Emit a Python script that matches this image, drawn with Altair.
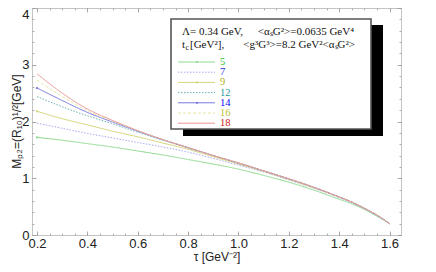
import altair as alt
import pandas as pd

# ---- data ----
tau = [0.2, 0.3, 0.4, 0.5, 0.6, 0.7, 0.8, 0.9, 1.0, 1.1, 1.2, 1.3, 1.4, 1.45, 1.5, 1.55, 1.6]
series_labels = ["5", "7", "9", "12", "14", "16", "18"]
m5 = [1.72, 1.67, 1.61, 1.55, 1.48, 1.41, 1.33, 1.25, 1.16, 1.05, 0.93, 0.79, 0.63, 0.55, 0.45, 0.33, 0.20]
m7 = [1.97, 1.88, 1.79, 1.71, 1.63, 1.55, 1.46, 1.35, 1.23, 1.11, 0.97, 0.82, 0.66, 0.57, 0.46, 0.34, 0.20]
m9 = [2.18, 2.05, 1.94, 1.83, 1.73, 1.62, 1.51, 1.38, 1.25, 1.12, 0.98, 0.83, 0.67, 0.58, 0.47, 0.35, 0.20]
m12 = [2.44, 2.26, 2.10, 1.96, 1.81, 1.67, 1.53, 1.40, 1.26, 1.13, 0.99, 0.84, 0.67, 0.58, 0.47, 0.35, 0.20]
m14 = [2.59, 2.37, 2.16, 1.99, 1.83, 1.68, 1.54, 1.40, 1.27, 1.13, 0.99, 0.84, 0.67, 0.58, 0.47, 0.35, 0.20]
m16 = [2.73, 2.44, 2.19, 2.01, 1.84, 1.68, 1.54, 1.40, 1.27, 1.13, 0.99, 0.84, 0.67, 0.58, 0.47, 0.35, 0.20]
m18 = [2.84, 2.50, 2.22, 2.02, 1.84, 1.68, 1.54, 1.40, 1.27, 1.13, 0.99, 0.84, 0.67, 0.58, 0.47, 0.35, 0.20]
all_series = [m5, m7, m9, m12, m14, m16, m18]
marked_series = ["5", "9", "14"]

x_major = [0.2, 0.4, 0.6, 0.8, 1.0, 1.2, 1.4, 1.6]
x_minor = [round(0.2 + 0.05 * i, 2) for i in range(-1, 29)]
y_major = [0, 1, 2, 3, 4]
y_minor = [round(0.2 * i, 1) for i in range(0, 21)]

# ---- styles ----
line_colors = ["#8edb8e", "#a9a9f2", "#d4d478", "#6db3b3", "#7878e0", "#e6e6a6", "#ea9696"]
label_colors = ["#2ec42e", "#2a2ad8", "#b0b020", "#1f9a9a", "#0a0aff", "#c0c030", "#cc2020"]
dashes = [[1, 0], [1.5, 1.5], [1, 0], [1.5, 1.5], [1, 0], [3, 2], [1, 0]]

rows = []
for lab, vals in zip(series_labels, all_series):
    for t, v in zip(tau, vals):
        rows.append({"tau": t, "m": v, "series": lab})
df = pd.DataFrame(rows)

legend_df = pd.DataFrame({
    "series": series_labels,
    "idx": list(range(len(series_labels))),
    "tcol": label_colors,
})

W, H = 369, 227
xscale = alt.Scale(domain=[0.18, 1.6455], nice=False, zero=False)
yscale = alt.Scale(domain=[0, 4], nice=False)
color = alt.Color("series:N", scale=alt.Scale(domain=series_labels, range=line_colors), legend=None)
dash = alt.StrokeDash("series:N", scale=alt.Scale(domain=series_labels, range=dashes), legend=None)

FONT = "Liberation Sans"
SERIF = "Liberation Serif"
TICK = "#9a9a9a"


def ax(orient, vals, size, labels):
    return alt.Axis(orient=orient, values=vals, tickSize=size, offset=-size, domain=False, grid=False,
                    labels=labels, tickColor=TICK, tickWidth=0.8, title=None)


lines = alt.Chart(df).mark_line(strokeWidth=1, interpolate="monotone").encode(
    x=alt.X("tau:Q", scale=xscale,
            axis=alt.Axis(orient="bottom", values=x_major, tickSize=4, offset=-4, domain=False, grid=False,
                          tickColor=TICK, tickWidth=0.8, labelFont=FONT, labelFontSize=13,
                          labelColor="#222", labelPadding=2, labelFlush=False, labelOverlap=False,
                          format=".1f", title="τ [GeV⁻²]", titleFont=FONT, titleFontSize=12,
                          titleFontWeight="normal", titleColor="#222", titlePadding=1)),
    y=alt.Y("m:Q", scale=yscale,
            axis=alt.Axis(orient="left", values=y_major, tickSize=4, offset=-4, domain=False, grid=False,
                          tickColor=TICK, tickWidth=0.8, labelFont=FONT, labelFontSize=13,
                          labelColor="#222", labelPadding=3, labelFlush=False, labelOverlap=False,
                          labelOffset={"condition": {"test": "datum.value == 4", "value": 6}, "value": 0},
                          format="d", title="Mₚ₂=(R₁₀)¹/²[GeV]", titleFont=FONT, titleFontSize=12,
                          titleFontWeight="normal", titleColor="#222",
                          titleX=-20, titleY=113, titleAngle=270, titleAlign="center",
                          titleBaseline="middle")),
    color=color,
    strokeDash=dash,
    detail="series:N",
)

start_pts = alt.Chart(df).transform_filter(
    alt.FieldOneOfPredicate(field="series", oneOf=marked_series)
).transform_filter("datum.tau == 0.2").mark_circle(size=5, opacity=1).encode(
    x=alt.X("tau:Q", scale=xscale, axis=None),
    y=alt.Y("m:Q", scale=yscale, axis=None),
    color=color,
)


def axis_layer(xo, yo, xv, yv, size):
    return alt.Chart(df).mark_line(opacity=0).encode(
        x=alt.X("tau:Q", scale=xscale, axis=ax(xo, xv, size, False)),
        y=alt.Y("m:Q", scale=yscale, axis=ax(yo, yv, size, False)),
        detail="series:N",
    )


minor_bl = axis_layer("bottom", "left", x_minor, y_minor, 2)
major_tr = axis_layer("top", "right", x_major, y_major, 4)
minor_tr = axis_layer("top", "right", x_minor, y_minor, 2)

one = pd.DataFrame({"k": [0]})

# legend box (pixel positions inside the plot area)
shadow = alt.Chart(one).mark_rect(color="black").encode(
    x=alt.value(151), x2=alt.value(351), y=alt.value(17), y2=alt.value(128))
box = alt.Chart(one).mark_rect(fill="white", stroke="#555555", strokeWidth=1.6).encode(
    x=alt.value(139), x2=alt.value(339), y=alt.value(11), y2=alt.value(121))


def txt(s, x, y, size=11, align="left"):
    return alt.Chart(one).mark_text(text=s, align=align, baseline="middle", font=SERIF,
                                    fontSize=size, color="#111").encode(
        x=alt.value(x), y=alt.value(y))


hdr = [
    txt("Λ= 0.34 GeV,", 150, 24),
    txt("<αₛG²>=0.0635 GeV⁴", 322, 24, align="right"),
    txt("t", 150, 37),
    txt("c", 153.5, 39.5, size=7.5),
    txt("[GeV²],", 158, 37),
    txt("<g³G³>=8.2 GeV²<αₛG²>", 323, 37, align="right"),
]

leg_base = alt.Chart(legend_df).transform_calculate(ly="54 + datum.idx * 10.2")
leg_lines = leg_base.mark_rule(strokeWidth=1).encode(
    x=alt.value(146), x2=alt.value(183),
    y=alt.Y("ly:Q", scale=None, axis=None),
    color=color, strokeDash=dash,
)
leg_dots = leg_base.transform_filter(
    alt.FieldOneOfPredicate(field="series", oneOf=marked_series)
).mark_circle(size=5, opacity=1).encode(
    x=alt.value(165),
    y=alt.Y("ly:Q", scale=None, axis=None),
    color=color,
)
leg_text = leg_base.mark_text(align="left", baseline="middle", font=SERIF, fontSize=10.5).encode(
    x=alt.value(188),
    y=alt.Y("ly:Q", scale=None, axis=None),
    text="series:N",
    color=alt.Color("tcol:N", scale=None, legend=None),
)

chart = alt.layer(
    lines, start_pts, minor_bl, major_tr, minor_tr,
    shadow, box, *hdr, leg_lines, leg_dots, leg_text,
).resolve_axis(x="independent", y="independent").properties(
    width=W, height=H, autosize="none",
    padding={"left": 24, "top": 0, "right": 10, "bottom": 29},
    background="white",
).configure_view(stroke="#c4c4c4", strokeWidth=1)

chart.save("out.html", embed_options={"renderer": "svg", "actions": False})
